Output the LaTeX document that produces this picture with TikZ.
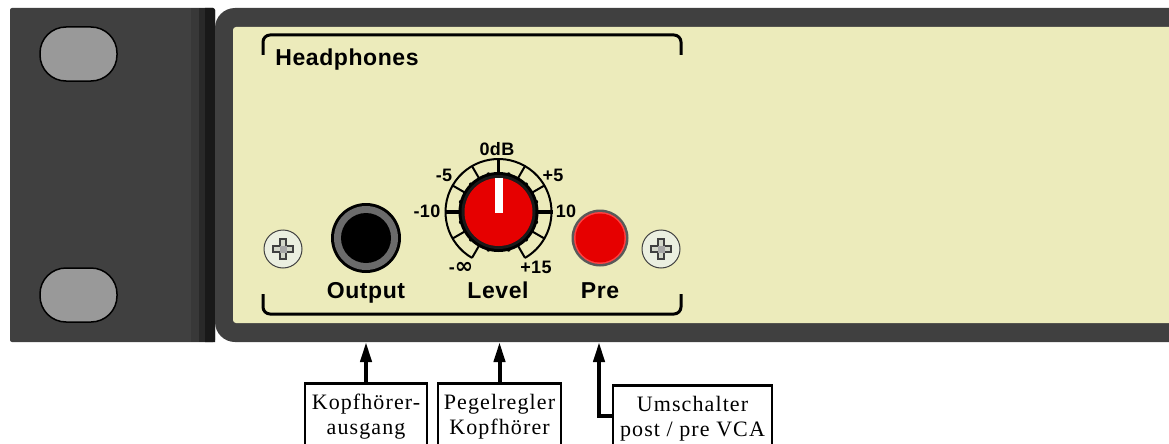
\documentclass[tikz,border=0pt]{standalone}
\usepackage{fontspec}
\usetikzlibrary{arrows.meta}
\newfontfamily\lblserif[LetterSpace=5]{Liberation Serif}
\newfontfamily\lblsans[LetterSpace=2.5]{Liberation Sans}
\newfontfamily\symfont{DejaVu Sans}
\definecolor{cream}{HTML}{ECEBBB}
\definecolor{darkpanel}{HTML}{404040}
\definecolor{ovalgrey}{HTML}{999999}
\definecolor{knobred}{HTML}{E60000}
\definecolor{screwface}{HTML}{EBEFE0}
\tikzset{
  oval/.style={fill=ovalgrey,draw=black,line width=1.5pt,rounded corners=26pt},
  bracketline/.style={draw=black,line width=3pt,rounded corners=7pt},
  bigtext/.style={anchor=base,inner sep=0pt,font=\lblsans\bfseries\fontsize{23}{24}\selectfont},
  ticktext/.style={anchor=base,inner sep=0pt,font=\lblsans\bfseries\fontsize{18}{19}\selectfont},
  callout/.style={draw=black,line width=2.5pt,fill=white,anchor=north,align=center,inner xsep=0pt,inner ysep=11pt,
    font=\lblserif\fontsize{22}{25}\selectfont},
  pointer/.style={draw=black,line width=4pt,-{Triangle[length=20pt,width=11pt]}},
  minortick/.style={line width=2pt},
  majortick/.style={line width=3.5pt},
}
\newcommand{\screw}[2]{%
  \begin{scope}[shift={(#1,#2)}]
    \fill[screwface,draw=black!75,line width=1pt] (0,0) circle (19);
    \draw[fill=screwface!90!black,draw=black!75,line width=1.2pt]
      (-3,-10) -- (3,-10) -- (3,-3) -- (10,-3) -- (10,3) -- (3,3) -- (3,10) -- (-3,10) -- (-3,3) -- (-10,3) -- (-10,-3) -- (-3,-3) -- cycle;
    \fill[black!35] (-3.5,-3.5) rectangle (3.5,3.5);
  \end{scope}}
\begin{document}
\begin{tikzpicture}[x=1pt,y=-1pt]
\useasboundingbox (0,0) rectangle (1169,444);
\fill[white] (0,0) rectangle (1169,444);
% rack ear
\fill[darkpanel,rounded corners=2pt] (10,8) rectangle (215,342);
\fill[black!78] (191,8) rectangle (199,342);
\fill[black!84] (199,8) rectangle (205,342);
\fill[black!90] (205,8) -- (213,8) -- (215,10) -- (215,342) -- (205,342) -- cycle;
\path[oval] (40,27) rectangle (117,81);
\path[oval] (40,268) rectangle (117,322);
% front panel
\fill[darkpanel,rounded corners=20pt] (1200,8) -- (215,8) -- (215,342) -- (1200,342) -- cycle;
\fill[cream,rounded corners=3pt] (1200,27) -- (233,27) -- (233,323) -- (1200,323) -- cycle;
% group brackets
\path[bracketline] (263,55) -- (263,35) -- (681,35) -- (681,55);
\path[bracketline] (263,294) -- (263,314) -- (681,314) -- (681,294);
% screws
\screw{283}{249}
\screw{661}{249}
% output jack
\fill[black] (366,238) circle (35);
\fill[black!58] (366,238) circle (32);
\fill[black] (366,238) circle (25);
% level knob
\begin{scope}[shift={(498.5,212)},y=1pt]
  \draw[minortick] (240:53) arc[start angle=240,end angle=-60,radius=53];
  \foreach \a in {240,210,150,120,60,30,-30,-60} \draw[minortick] (\a:53) -- (\a:38);
  \foreach \a in {180,90,0} \draw[majortick] (\a:54) -- (\a:38);
  \fill[black] (0,0) circle (40);
  \foreach \a in {15,45,...,345} \fill[black] (\a:39) circle (2);
  \fill[darkpanel!120!white] (0,0) circle (37);
  \fill[knobred] (0,0) circle (34);
  \fill[white] (-4,34) rectangle (4,-1);
\end{scope}
% pre button
\fill[black!65] (600,238) circle (28.5);
\fill[red!75!white] (600,238) circle (26);
\fill[knobred] (600,238) circle (24.5);
% panel text
\node[bigtext] (head) at (347,66) {Headphones};
\node[bigtext] (out) at (366,298) {Output};
\node[bigtext] (lev) at (498,298) {Level};
\node[bigtext] (pre) at (600,298) {Pre};
\node[ticktext] (t0) at (497,155) {0dB};
\node[ticktext] (tm5) at (444,181) {-5};
\node[ticktext] (tp5) at (553,181) {+5};
\node[ticktext] (tm10) at (427,217) {-10};
\node[ticktext] (tp10) at (566,217) {10};
\node[ticktext] (tinf) at (461,273) {-{\symfont\bfseries\fontsize{22}{22}\selectfont ∞}};
\node[ticktext] (tp15) at (536,273) {+15};
% callouts
\node[callout,minimum width=122pt] (boxA) at (366,382) {Kopfhörer-\\ausgang};
\node[callout,minimum width=123pt] (boxB) at (499.5,382) {Pegelregler\\Kopfhörer};
\node[callout,minimum width=159pt] (boxC) at (692.5,384) {Umschalter\\post / pre VCA};
\coordinate (tipA) at (boxA.north |- 0,342);
\coordinate (tipB) at (boxB.north |- 0,342);
\coordinate (tipC) at (599,342);
\draw[pointer] (boxA.north) -- (tipA);
\draw[pointer] (boxB.north) -- (tipB);
\draw[pointer] ([yshift=3pt]boxC.west) -| (tipC);
\end{tikzpicture}
\end{document}
